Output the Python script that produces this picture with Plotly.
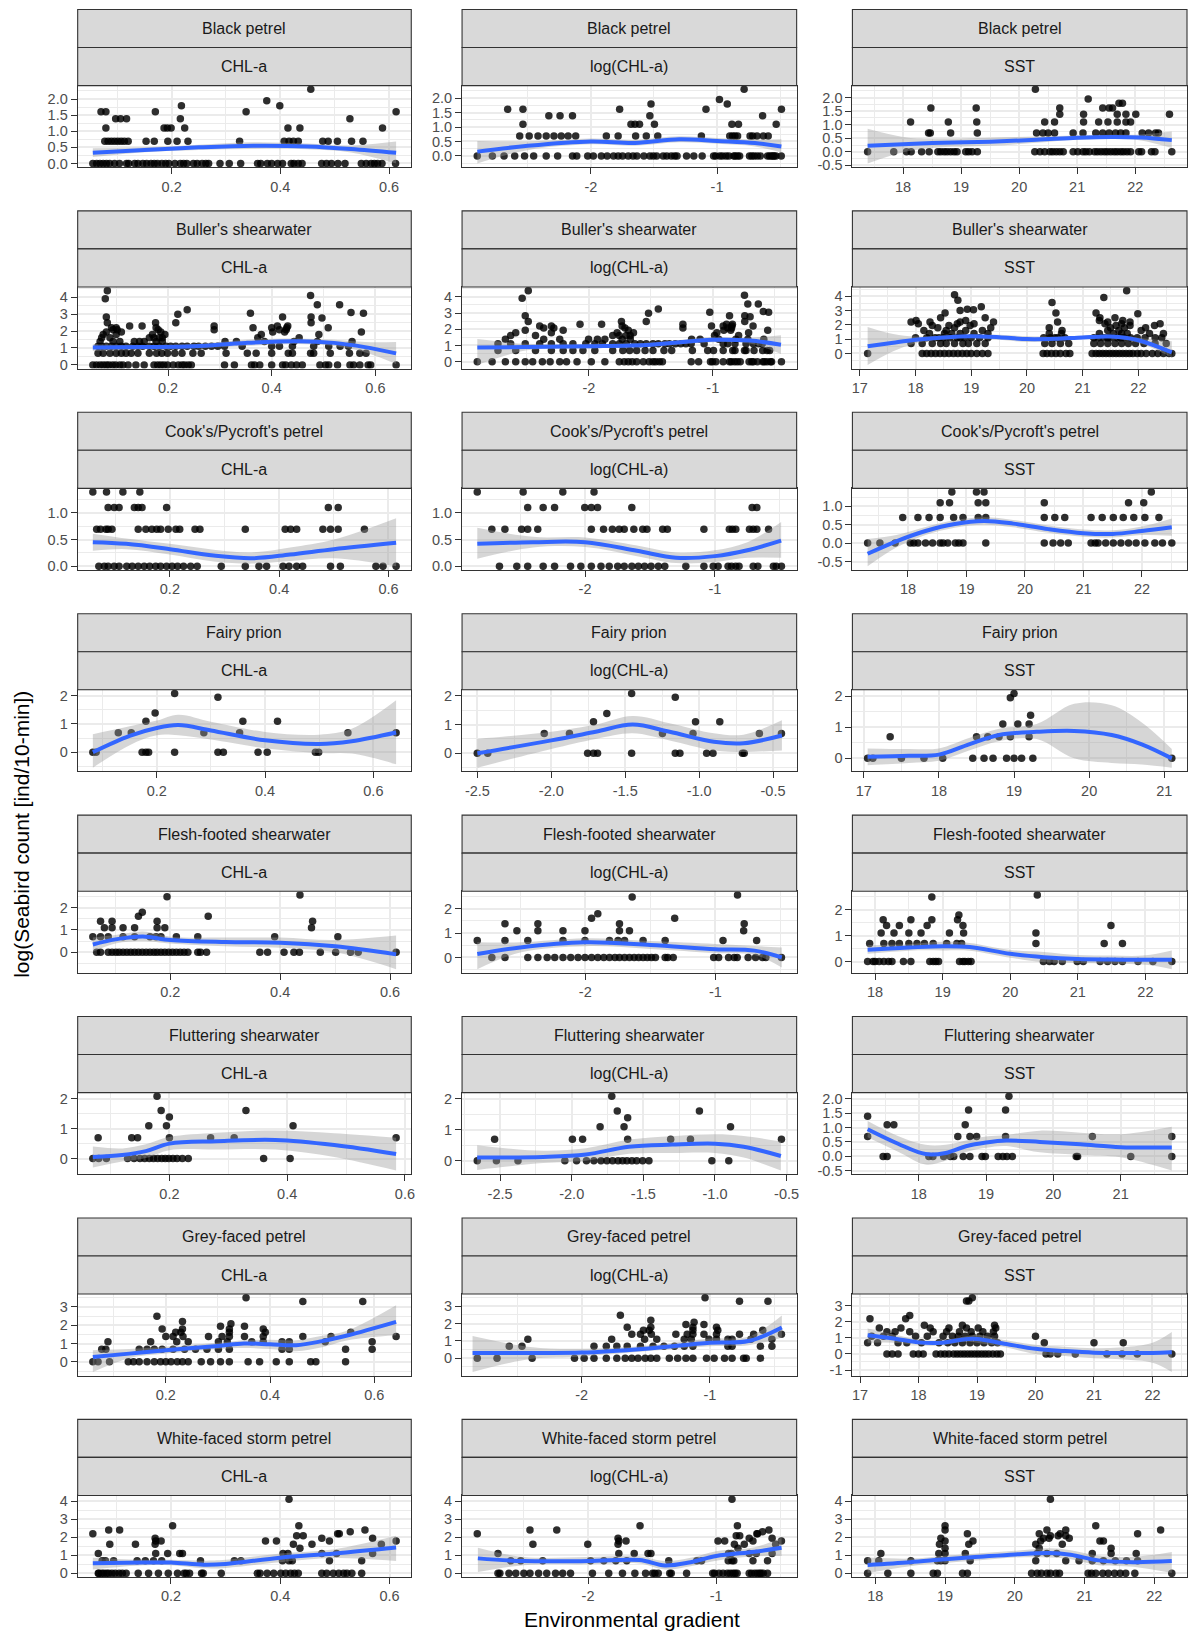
import numpy as np
import plotly.graph_objects as go

W, H = 1192, 1638

SPECIES = ["Black petrel", "Buller's shearwater", "Cook's/Pycroft's petrel", "Fairy prion",
           "Flesh-footed shearwater", "Fluttering shearwater", "Grey-faced petrel",
           "White-faced storm petrel"]
VARIABLES = ["CHL-a", "log(CHL-a)", "SST"]

# ---- observations: each group is [seabird count, x1, x2, ...] ----
BP_CHL = [
    [0, 0.055, 0.062, 0.068, 0.074, 0.080, 0.086, 0.095, 0.104, 0.117, 0.121, 0.132, 0.138, 0.147, 0.154,
     0.162, 0.168, 0.174, 0.182, 0.189, 0.195, 0.206, 0.216, 0.222, 0.228, 0.240, 0.247, 0.256, 0.263,
     0.268, 0.289, 0.306, 0.327, 0.358, 0.364, 0.376, 0.384, 0.395, 0.404, 0.420, 0.425, 0.433, 0.440,
     0.476, 0.485, 0.494, 0.506, 0.519, 0.549, 0.558, 0.567, 0.573, 0.579, 0.587, 0.612],
    [1, 0.077, 0.083, 0.089, 0.095, 0.101, 0.107, 0.113, 0.120, 0.153, 0.168, 0.193, 0.210, 0.230, 0.325,
     0.407, 0.416, 0.424, 0.433, 0.478, 0.488, 0.505, 0.531, 0.552],
    [2, 0.079, 0.186, 0.192, 0.199, 0.224, 0.414, 0.436, 0.588],
    [3, 0.097, 0.106, 0.117, 0.216, 0.528],
    [4, 0.070, 0.079, 0.170, 0.337, 0.613],
    [5, 0.218, 0.399],
    [6, 0.375],
    [9, 0.456],
]
BP_SST = [
    [0, 17.39, 17.84, 18.06, 18.14, 18.32, 18.45, 18.60, 18.65, 18.71, 18.76, 18.82, 18.88, 18.93, 19.08,
     19.13, 19.19, 19.28, 20.27, 20.36, 20.44, 20.53, 20.58, 20.64, 20.70, 20.76, 20.93, 21.01, 21.10,
     21.15, 21.21, 21.30, 21.35, 21.41, 21.47, 21.52, 21.58, 21.64, 21.69, 21.75, 21.80, 21.86, 21.92,
     22.06, 22.11, 22.28, 22.34, 22.63],
    [1, 18.44, 18.47, 18.82, 19.28, 20.30, 20.41, 20.50, 20.61, 20.93, 21.10, 21.32, 21.44, 21.55, 21.66,
     21.75, 21.84, 22.12, 22.23, 22.35, 22.40],
    [2, 18.13, 18.78, 19.27, 20.44, 20.61, 21.11, 21.37, 21.53, 21.69, 21.84, 21.92],
    [3, 20.70, 21.11, 21.69, 21.84, 22.01, 22.59],
    [4, 18.48, 19.26, 20.70, 21.44, 21.55, 21.61],
    [5, 21.72, 21.78],
    [6, 21.19],
    [9, 20.28],
]

BS_CHL = [
    [0, 0.055, 0.062, 0.069, 0.075, 0.081, 0.086, 0.093, 0.099, 0.107, 0.113, 0.123, 0.138, 0.154, 0.173,
     0.180, 0.186, 0.192, 0.199, 0.210, 0.220, 0.227, 0.232, 0.239, 0.245, 0.309, 0.328, 0.361, 0.367,
     0.377, 0.400, 0.421, 0.427, 0.438, 0.448, 0.459, 0.493, 0.504, 0.510, 0.527, 0.551, 0.558, 0.570,
     0.586, 0.591, 0.640],
    [1, 0.065, 0.075, 0.088, 0.100, 0.110, 0.119, 0.129, 0.142, 0.164, 0.178, 0.188, 0.199, 0.213, 0.227,
     0.248, 0.264, 0.312, 0.353, 0.370, 0.400, 0.432, 0.440, 0.475, 0.481, 0.513, 0.550, 0.570, 0.582],
    [2, 0.065, 0.072, 0.081, 0.091, 0.100, 0.110, 0.119, 0.132, 0.142, 0.151, 0.164, 0.173, 0.183, 0.196,
     0.205, 0.215, 0.227, 0.237, 0.250, 0.259, 0.272, 0.284, 0.296, 0.309, 0.343, 0.400, 0.415, 0.440,
     0.481, 0.510, 0.532, 0.548],
    [3, 0.069, 0.094, 0.107, 0.135, 0.145, 0.154, 0.177, 0.189, 0.310, 0.332, 0.386, 0.443, 0.488, 0.555],
    [4, 0.072, 0.088, 0.164, 0.173, 0.183, 0.189, 0.373, 0.453],
    [5, 0.075, 0.100, 0.170, 0.194, 0.380, 0.491],
    [6, 0.081, 0.110, 0.186, 0.402, 0.425, 0.573],
    [7, 0.094, 0.102, 0.181, 0.289, 0.415, 0.428],
    [8, 0.091, 0.100, 0.177, 0.364, 0.400, 0.429, 0.509],
    [9, 0.126, 0.150, 0.289, 0.411, 0.431],
    [11, 0.083, 0.176, 0.215, 0.476],
    [15, 0.497],
    [16, 0.081, 0.421, 0.476],
    [19, 0.219],
    [20, 0.359, 0.577],
    [21, 0.553],
    [25, 0.237],
    [34, 0.488, 0.531],
    [49, 0.079],
    [59, 0.475],
    [79, 0.083],
]
BS_SST = [
    [0, 17.14, 18.12, 18.20, 18.28, 18.36, 18.44, 18.52, 18.60, 18.68, 18.76, 18.84, 18.92, 19.00, 19.10,
     19.20, 19.30, 20.29, 20.36, 20.44, 20.52, 20.60, 20.70, 20.77, 21.17, 21.24, 21.30, 21.36, 21.42,
     21.48, 21.54, 21.60, 21.66, 21.72, 21.78, 21.84, 21.90, 21.98, 22.05, 22.14, 22.25, 22.35, 22.45,
     22.55, 22.60],
    [1, 17.92, 18.12, 18.30, 18.45, 18.55, 18.70, 18.85, 18.95, 19.10, 19.25, 20.32, 20.45, 20.60, 20.75,
     21.20, 21.32, 21.45, 21.58, 21.70, 21.82, 21.95, 22.10, 22.30, 22.50],
    [2, 18.00, 18.20, 18.35, 18.42, 18.50, 18.62, 18.75, 18.80, 18.88, 19.00, 19.15, 19.30, 20.30, 20.42,
     20.50, 20.55, 20.68, 21.20, 21.28, 21.38, 21.45, 21.50, 21.62, 21.68, 21.74, 21.86, 21.98, 22.12,
     22.30, 22.42],
    [3, 18.25, 18.52, 18.65, 18.80, 19.05, 19.30, 20.40, 20.62, 21.30, 21.55, 21.70, 21.80, 22.20, 22.45],
    [4, 18.15, 18.55, 18.90, 19.20, 20.63, 21.45, 21.65, 22.05],
    [5, 18.40, 18.70, 19.35, 20.40, 21.50, 21.75, 22.13],
    [6, 18.30, 18.60, 18.98, 21.60, 21.85, 22.29],
    [7, 18.05, 18.75, 19.05, 21.40, 21.70, 22.39],
    [8, 17.92, 18.26, 18.80, 19.40, 20.55, 21.45, 21.85],
    [9, 18.01, 18.90, 21.30, 21.72],
    [11, 18.45, 19.25, 21.31, 21.58],
    [15, 21.99],
    [16, 18.53, 20.52, 21.24],
    [19, 18.80],
    [20, 19.04],
    [21, 18.93],
    [25, 19.18],
    [34, 20.45],
    [40, 18.76],
    [49, 21.38],
    [59, 18.70],
    [79, 21.79],
]

CP_CHL = [
    [0, 0.070, 0.080, 0.087, 0.098, 0.107, 0.121, 0.131, 0.142, 0.153, 0.163, 0.174, 0.183, 0.194, 0.204,
     0.214, 0.225, 0.238, 0.250, 0.294, 0.338, 0.363, 0.377, 0.407, 0.418, 0.432, 0.443, 0.494, 0.512,
     0.577, 0.590, 0.614],
    [1, 0.066, 0.073, 0.083, 0.087, 0.094, 0.142, 0.156, 0.167, 0.176, 0.183, 0.197, 0.211, 0.218, 0.246,
     0.255, 0.338, 0.411, 0.421, 0.432, 0.480, 0.494, 0.508, 0.556],
    [2, 0.087, 0.098, 0.107, 0.135, 0.142, 0.149, 0.194, 0.490, 0.508],
    [3, 0.059, 0.084, 0.114, 0.145],
]
CP_SST = [
    [0, 17.31, 17.52, 17.78, 18.04, 18.10, 18.17, 18.30, 18.42, 18.55, 18.60, 18.68, 18.81, 18.87, 18.94,
     19.33, 20.33, 20.48, 20.61, 20.74, 21.13, 21.20, 21.25, 21.38, 21.51, 21.64, 21.77, 21.90, 22.05,
     22.22, 22.35, 22.51],
    [1, 17.91, 18.17, 18.36, 18.55, 18.78, 18.94, 19.20, 19.33, 20.33, 20.51, 20.68, 21.13, 21.32, 21.51,
     21.68, 21.86, 22.05, 22.29],
    [2, 18.55, 18.71, 19.20, 19.33, 20.33, 21.77, 22.03],
    [3, 18.75, 19.17, 19.30, 22.16],
]

FP_CHL = [
    [0, 0.082, 0.088, 0.173, 0.180, 0.185, 0.233, 0.313, 0.323, 0.387, 0.404, 0.493, 0.499],
    [1, 0.129, 0.153, 0.287, 0.353, 0.553, 0.642],
    [2, 0.180, 0.359, 0.423],
    [3, 0.197],
    [6, 0.313],
    [7, 0.233],
]
FP_SST = [
    [0, 17.05, 17.12, 17.50, 17.80, 18.05, 18.45, 18.60, 18.72, 18.90, 19.00, 19.10, 19.25, 21.10],
    [1, 17.35, 18.50, 18.65, 18.80, 18.95, 19.20],
    [2, 18.85, 19.05, 19.20],
    [3, 19.22],
    [6, 18.95],
    [7, 19.00],
]

FF_CHL = [
    [0, 0.066, 0.073, 0.087, 0.094, 0.101, 0.107, 0.114, 0.121, 0.128, 0.135, 0.142, 0.149, 0.156, 0.163,
     0.170, 0.176, 0.183, 0.190, 0.197, 0.204, 0.211, 0.218, 0.225, 0.232, 0.250, 0.255, 0.266, 0.363,
     0.377, 0.407, 0.425, 0.435, 0.473, 0.501, 0.528, 0.542, 0.611],
    [1, 0.059, 0.073, 0.087, 0.114, 0.135, 0.163, 0.174, 0.183, 0.211, 0.250, 0.390, 0.505],
    [2, 0.080, 0.094, 0.114, 0.135, 0.176, 0.190, 0.457],
    [3, 0.073, 0.094, 0.176, 0.459],
    [4, 0.142, 0.269],
    [5, 0.149],
    [11, 0.194],
    [12, 0.436],
]
FF_SST = [
    [0, 17.89, 17.97, 18.00, 18.06, 18.13, 18.20, 18.25, 18.42, 18.53, 18.81, 18.86, 18.90, 18.94, 19.25,
     19.30, 19.33, 19.38, 19.42, 20.49, 20.58, 20.65, 20.77, 20.99, 21.08, 21.33, 21.44, 21.55, 21.66,
     21.89, 22.11, 22.39],
    [1, 17.92, 18.13, 18.25, 18.36, 18.50, 18.62, 18.73, 18.86, 19.06, 19.21, 19.28, 20.38, 21.39, 21.66],
    [2, 18.09, 18.28, 18.50, 18.68, 19.10, 19.31, 20.38],
    [3, 18.17, 18.36, 18.77, 19.30, 21.49],
    [4, 18.12, 18.53, 18.84, 19.22],
    [5, 19.24],
    [11, 18.84],
    [12, 20.40],
]

FS_CHL = [
    [0, 0.070, 0.080, 0.093, 0.129, 0.140, 0.150, 0.158, 0.166, 0.173, 0.180, 0.187, 0.193, 0.199, 0.206,
     0.213, 0.222, 0.232, 0.360, 0.405],
    [1, 0.079, 0.136, 0.146, 0.200, 0.270, 0.310, 0.585],
    [2, 0.165, 0.195, 0.410],
    [3, 0.200],
    [4, 0.186, 0.330],
    [7, 0.179],
]
FS_SST = [
    [0, 17.47, 17.53, 18.15, 18.21, 18.37, 18.47, 18.52, 18.66, 18.76, 18.94, 18.99, 19.18, 19.25, 19.31,
     19.39, 20.34, 20.36, 21.15, 21.76],
    [1, 17.24, 18.58, 18.76, 18.86, 19.29, 20.58, 21.76],
    [2, 17.53, 17.63, 18.69],
    [3, 17.24],
    [4, 18.74, 19.29],
    [7, 19.34],
]

GF_CHL = [
    [0, 0.060, 0.070, 0.092, 0.128, 0.138, 0.149, 0.164, 0.178, 0.190, 0.200, 0.210, 0.222, 0.232, 0.243,
     0.268, 0.286, 0.305, 0.322, 0.358, 0.380, 0.412, 0.437, 0.478, 0.488, 0.545],
    [1, 0.077, 0.085, 0.149, 0.164, 0.178, 0.193, 0.214, 0.236, 0.257, 0.279, 0.301, 0.322, 0.423, 0.437,
     0.545, 0.596],
    [2, 0.089, 0.171, 0.221, 0.243, 0.301, 0.318, 0.365, 0.387, 0.423, 0.437, 0.506, 0.596],
    [3, 0.200, 0.214, 0.233, 0.282, 0.308, 0.322, 0.351, 0.387, 0.463, 0.517, 0.642],
    [4, 0.219, 0.229, 0.322, 0.391, 0.555],
    [5, 0.193, 0.232, 0.322, 0.387],
    [6, 0.305, 0.351],
    [7, 0.325],
    [8, 0.232],
    [11, 0.183],
    [26, 0.463, 0.578],
    [32, 0.354],
]
GF_SST = [
    [0, 17.46, 17.55, 17.65, 17.91, 18.00, 18.08, 18.30, 18.38, 18.45, 18.52, 18.60, 18.66, 18.72, 18.78,
     18.84, 18.90, 18.96, 19.02, 19.08, 19.14, 19.20, 19.27, 19.34, 19.40, 20.18, 20.25, 20.38, 20.68,
     21.22, 21.48, 21.74, 22.33],
    [1, 17.13, 17.30, 17.65, 17.80, 18.05, 18.35, 18.50, 18.62, 18.75, 18.88, 19.00, 19.12, 19.25, 19.35,
     20.15, 21.00, 21.50],
    [2, 17.20, 17.40, 17.55, 17.95, 18.15, 18.42, 18.58, 18.68, 18.80, 18.92, 19.05, 19.18, 19.30, 20.00],
    [3, 17.46, 17.60, 17.85, 18.25, 18.48, 18.70, 18.90, 19.10, 19.28],
    [4, 17.33, 17.70, 18.20, 18.52, 18.82, 19.02, 19.32],
    [5, 18.10, 18.75, 19.30],
    [8, 17.17, 17.78],
    [10, 17.85],
    [26, 18.82, 18.86],
    [32, 18.92],
]

WF_CHL = [
    [0, 0.067, 0.068, 0.073, 0.077, 0.082, 0.086, 0.092, 0.098, 0.105, 0.111, 0.118, 0.140, 0.159, 0.177,
     0.195, 0.212, 0.224, 0.228, 0.234, 0.256, 0.259, 0.292, 0.358, 0.363, 0.376, 0.388, 0.401, 0.410,
     0.419, 0.426, 0.433, 0.476, 0.485, 0.497, 0.507, 0.516, 0.522, 0.531, 0.549],
    [1, 0.074, 0.080, 0.095, 0.138, 0.153, 0.168, 0.183, 0.254, 0.316, 0.328, 0.404, 0.416, 0.422, 0.490,
     0.549],
    [2, 0.067, 0.172, 0.194, 0.216, 0.221, 0.405, 0.414, 0.476, 0.503, 0.569],
    [3, 0.436],
    [4, 0.088, 0.135, 0.171, 0.424, 0.458, 0.585],
    [5, 0.172, 0.182, 0.373, 0.393, 0.490, 0.612],
    [6, 0.171, 0.476, 0.569],
    [7, 0.430, 0.442],
    [8, 0.057, 0.505, 0.508],
    [9, 0.528],
    [10, 0.086, 0.106, 0.555],
    [13, 0.203, 0.434],
    [60, 0.416],
]
WF_SST = [
    [0, 17.89, 18.18, 18.51, 18.83, 18.89, 19.25, 19.32, 20.24, 20.32, 20.38, 20.46, 20.51, 20.59, 20.64,
     21.05, 21.10, 21.16, 21.26, 21.34, 21.43, 21.51, 21.59, 21.72, 22.25],
    [1, 17.89, 18.05, 18.51, 18.89, 18.94, 19.00, 19.36, 20.30, 20.73, 20.92, 21.11, 21.27, 21.44, 21.60,
     21.76],
    [2, 18.08, 18.91, 19.00, 19.29, 20.32, 20.46, 20.60, 21.11, 21.38, 21.74],
    [3, 19.00, 20.35, 21.38],
    [4, 18.92, 19.34, 20.30, 20.68],
    [5, 19.00, 19.40, 20.37, 21.22, 21.27],
    [6, 18.94, 20.41, 20.49, 20.78],
    [7, 20.51, 20.62, 20.73],
    [8, 19.32, 20.35, 20.65, 21.76],
    [10, 19.00, 20.46, 20.73, 22.09],
    [13, 19.00, 21.16],
    [60, 20.51],
]

# ---- loess fits: [x, fit, lower, upper] ----
BP_CHL_FIT = [[0.055, 0.15, 0.25, 0.35, 0.45, 0.53, 0.613],
              [0.33, 0.42, 0.50, 0.55, 0.53, 0.45, 0.33],
              [0.20, 0.35, 0.42, 0.45, 0.44, 0.34, 0.00],
              [0.47, 0.50, 0.58, 0.66, 0.62, 0.56, 0.68]]
BP_LOG_FIT = [[-2.90, -2.5, -2.0, -1.65, -1.3, -1.0, -0.7, -0.49],
              [0.15, 0.35, 0.50, 0.45, 0.58, 0.52, 0.45, 0.33],
              [-0.26, 0.20, 0.40, 0.35, 0.47, 0.42, 0.33, 0.12],
              [0.52, 0.50, 0.60, 0.56, 0.68, 0.62, 0.57, 0.58]]
BP_SST_FIT = [[17.39, 18.0, 18.5, 19.5, 20.3, 21.0, 21.6, 22.1, 22.63],
              [0.22, 0.28, 0.32, 0.37, 0.44, 0.52, 0.55, 0.53, 0.43],
              [-0.43, -0.02, 0.14, 0.22, 0.33, 0.44, 0.47, 0.42, 0.14],
              [0.85, 0.55, 0.48, 0.52, 0.56, 0.60, 0.63, 0.64, 0.75]]

BS_CHL_FIT = [[0.055, 0.15, 0.25, 0.35, 0.45, 0.52, 0.58, 0.64],
              [1.02, 1.05, 1.10, 1.30, 1.40, 1.30, 1.05, 0.68],
              [0.82, 0.93, 0.97, 1.12, 1.24, 1.12, 0.75, 0.05],
              [1.22, 1.17, 1.23, 1.48, 1.56, 1.48, 1.35, 1.35]]
BS_LOG_FIT = [[-2.90, -2.5, -2.0, -1.5, -1.0, -0.7, -0.45],
              [0.87, 0.90, 0.95, 1.05, 1.35, 1.30, 1.05],
              [-0.20, 0.70, 0.82, 0.92, 1.20, 1.12, 0.48],
              [1.40, 1.10, 1.08, 1.18, 1.50, 1.48, 1.63]]
BS_SST_FIT = [[17.14, 17.6, 18.0, 18.5, 19.0, 19.5, 20.0, 20.5, 21.0, 21.5, 22.0, 22.6],
              [0.50, 0.75, 0.95, 1.12, 1.20, 1.13, 1.00, 1.02, 1.12, 1.18, 0.92, 0.07],
              [-0.80, 0.15, 0.72, 0.98, 1.07, 0.95, 0.80, 0.87, 1.00, 1.06, 0.75, -0.28],
              [1.85, 1.35, 1.18, 1.26, 1.33, 1.30, 1.20, 1.17, 1.24, 1.30, 1.10, 0.85]]

CP_CHL_FIT = [[0.059, 0.12, 0.2, 0.28, 0.35, 0.42, 0.5, 0.614],
              [0.45, 0.42, 0.32, 0.20, 0.15, 0.22, 0.32, 0.44],
              [0.29, 0.32, 0.22, 0.09, 0.05, 0.10, 0.15, 0.00],
              [0.61, 0.52, 0.42, 0.31, 0.26, 0.35, 0.50, 0.90]]
CP_LOG_FIT = [[-2.83, -2.4, -2.0, -1.6, -1.3, -1.0, -0.75, -0.49],
              [0.42, 0.45, 0.45, 0.29, 0.16, 0.19, 0.30, 0.48],
              [0.14, 0.35, 0.36, 0.19, 0.06, 0.08, 0.16, 0.16],
              [0.72, 0.55, 0.54, 0.39, 0.26, 0.30, 0.45, 0.83]]
CP_SST_FIT = [[17.31, 17.8, 18.3, 18.8, 19.3, 19.8, 20.4, 21.0, 21.5, 22.0, 22.51],
              [-0.29, 0.05, 0.33, 0.52, 0.60, 0.53, 0.38, 0.27, 0.25, 0.33, 0.43],
              [-0.63, -0.12, 0.22, 0.42, 0.50, 0.43, 0.28, 0.17, 0.15, 0.22, 0.20],
              [0.11, 0.22, 0.44, 0.62, 0.70, 0.63, 0.48, 0.37, 0.35, 0.45, 0.67]]

FP_CHL_FIT = [[0.082, 0.15, 0.2, 0.24, 0.3, 0.4, 0.5, 0.56, 0.642],
              [0.00, 0.58, 0.86, 0.96, 0.77, 0.42, 0.29, 0.39, 0.70],
              [-0.55, 0.25, 0.60, 0.60, 0.45, 0.14, -0.03, -0.05, -0.43],
              [0.64, 0.92, 1.12, 1.33, 1.08, 0.72, 0.62, 0.83, 1.84]]
FP_LOG_FIT = [[-2.50, -2.0, -1.7, -1.45, -1.2, -0.9, -0.7, -0.44],
              [0.00, 0.45, 0.75, 1.00, 0.75, 0.40, 0.35, 0.62],
              [-0.50, 0.15, 0.50, 0.70, 0.45, 0.10, 0.05, 0.10],
              [0.50, 0.75, 1.00, 1.30, 1.05, 0.70, 0.65, 1.15]]
FP_SST_FIT = [[17.05, 17.6, 18.0, 18.4, 18.8, 19.3, 19.8, 20.3, 20.7, 21.1],
              [0.05, 0.08, 0.12, 0.45, 0.75, 0.85, 0.88, 0.75, 0.45, 0.00],
              [-0.22, -0.15, -0.08, 0.25, 0.55, 0.62, 0.00, -0.15, -0.20, -0.30],
              [0.32, 0.30, 0.32, 0.65, 0.95, 1.10, 1.75, 1.70, 1.15, 0.30]]

FF_CHL_FIT = [[0.059, 0.1, 0.15, 0.2, 0.3, 0.4, 0.5, 0.611],
              [0.35, 0.58, 0.71, 0.55, 0.46, 0.43, 0.27, -0.09],
              [0.03, 0.40, 0.50, 0.40, 0.27, 0.20, 0.00, -0.75],
              [0.66, 0.77, 0.93, 0.70, 0.66, 0.66, 0.55, 0.75]]
FF_LOG_FIT = [[-2.83, -2.5, -2.0, -1.5, -1.0, -0.7, -0.49],
              [0.14, 0.41, 0.62, 0.51, 0.34, 0.28, 0.00],
              [-0.48, 0.20, 0.46, 0.35, 0.18, 0.10, -0.41],
              [0.62, 0.62, 0.79, 0.67, 0.55, 0.47, 0.41]]
FF_SST_FIT = [[17.89, 18.5, 19.0, 19.4, 20.0, 20.5, 21.0, 21.5, 22.0, 22.39],
              [0.46, 0.54, 0.59, 0.56, 0.30, 0.17, 0.10, 0.08, 0.07, 0.07],
              [0.30, 0.42, 0.43, 0.42, 0.15, -0.03, -0.05, -0.08, -0.12, -0.29],
              [0.63, 0.67, 0.76, 0.72, 0.45, 0.37, 0.25, 0.23, 0.24, 0.43]]

FS_CHL_FIT = [[0.07, 0.12, 0.16, 0.2, 0.28, 0.38, 0.48, 0.585],
              [0.05, 0.12, 0.25, 0.50, 0.58, 0.62, 0.45, 0.15],
              [-0.30, -0.10, 0.02, 0.28, 0.30, 0.30, 0.05, -0.40],
              [0.40, 0.34, 0.48, 0.72, 0.86, 0.94, 0.85, 0.70]]
FS_LOG_FIT = [[-2.66, -2.2, -1.9, -1.6, -1.3, -1.0, -0.8, -0.54],
              [0.10, 0.12, 0.20, 0.45, 0.52, 0.55, 0.45, 0.15],
              [-0.30, -0.08, 0.00, 0.22, 0.25, 0.25, 0.10, -0.32],
              [0.50, 0.32, 0.40, 0.68, 0.79, 0.85, 0.80, 0.62]]
FS_SST_FIT = [[17.24, 17.7, 18.1, 18.4, 18.7, 19.0, 19.3, 19.8, 20.4, 21.0, 21.76],
              [0.94, 0.43, 0.08, 0.12, 0.35, 0.48, 0.55, 0.50, 0.42, 0.32, 0.31],
              [0.66, 0.15, -0.28, -0.15, 0.15, 0.30, 0.36, 0.14, 0.05, -0.03, -0.49],
              [1.23, 0.70, 0.40, 0.40, 0.55, 0.69, 0.74, 0.89, 0.82, 0.77, 1.03]]

GF_CHL_FIT = [[0.06, 0.13, 0.2, 0.3, 0.35, 0.4, 0.45, 0.5, 0.55, 0.642],
              [0.27, 0.45, 0.64, 0.87, 1.00, 0.96, 0.91, 1.13, 1.45, 2.18],
              [-0.55, 0.20, 0.45, 0.70, 0.76, 0.70, 0.58, 0.80, 1.18, 1.45],
              [0.64, 0.70, 0.82, 1.04, 1.18, 1.20, 1.18, 1.42, 1.73, 3.09]]
GF_LOG_FIT = [[-2.85, -2.4, -2.0, -1.5, -1.0, -0.7, -0.44],
              [0.30, 0.30, 0.32, 0.55, 0.89, 0.99, 1.78],
              [-0.80, -0.05, 0.10, 0.40, 0.69, 0.75, 1.18],
              [1.28, 0.65, 0.55, 0.72, 1.14, 1.25, 2.47]]
GF_SST_FIT = [[17.13, 17.6, 18.0, 18.4, 18.8, 19.0, 19.5, 20.0, 20.5, 21.0, 21.5, 22.0, 22.33],
              [1.16, 0.95, 0.72, 0.70, 0.92, 0.93, 0.62, 0.32, 0.18, 0.08, 0.06, 0.06, 0.10],
              [0.70, 0.70, 0.55, 0.55, 0.78, 0.70, 0.40, 0.00, -0.12, -0.27, -0.35, -0.55, -1.12],
              [1.59, 1.20, 0.90, 0.85, 1.08, 1.20, 0.85, 0.57, 0.45, 0.36, 0.42, 0.70, 1.37]]

WF_CHL_FIT = [[0.057, 0.15, 0.2, 0.26, 0.3, 0.4, 0.5, 0.612],
              [0.56, 0.60, 0.60, 0.48, 0.52, 0.87, 1.10, 1.43],
              [0.22, 0.45, 0.45, 0.28, 0.30, 0.62, 0.85, 0.69],
              [0.87, 0.75, 0.75, 0.70, 0.75, 1.10, 1.34, 2.08]]
WF_LOG_FIT = [[-2.86, -2.5, -2.0, -1.6, -1.4, -1.2, -1.0, -0.7, -0.49],
              [0.83, 0.68, 0.68, 0.74, 0.44, 0.62, 0.96, 1.20, 1.42],
              [0.07, 0.45, 0.50, 0.55, 0.22, 0.40, 0.70, 0.95, 0.96],
              [1.42, 0.90, 0.90, 0.95, 0.68, 0.86, 1.23, 1.45, 1.97]]
WF_SST_FIT = [[17.89, 18.5, 19.0, 19.5, 20.0, 20.5, 20.8, 21.2, 21.7, 22.25],
              [0.47, 0.62, 0.78, 0.92, 1.05, 1.13, 1.03, 0.72, 0.62, 0.68],
              [0.02, 0.40, 0.57, 0.72, 0.88, 0.88, 0.78, 0.45, 0.37, 0.02],
              [0.88, 0.82, 0.98, 1.12, 1.25, 1.39, 1.28, 0.98, 0.92, 1.19]]

# ---- axis breaks per species row: (CHL-a, log(CHL-a), SST) ----
X_TICKS = [
    ([0.2, 0.4, 0.6], [-2, -1], [18, 19, 20, 21, 22]),
    ([0.2, 0.4, 0.6], [-2, -1], [17, 18, 19, 20, 21, 22]),
    ([0.2, 0.4, 0.6], [-2, -1], [18, 19, 20, 21, 22]),
    ([0.2, 0.4, 0.6], [-2.5, -2.0, -1.5, -1.0, -0.5], [17, 18, 19, 20, 21]),
    ([0.2, 0.4, 0.6], [-2, -1], [18, 19, 20, 21, 22]),
    ([0.2, 0.4, 0.6], [-2.5, -2.0, -1.5, -1.0, -0.5], [18, 19, 20, 21]),
    ([0.2, 0.4, 0.6], [-2, -1], [17, 18, 19, 20, 21, 22]),
    ([0.2, 0.4, 0.6], [-2, -1], [18, 19, 20, 21, 22]),
]
Y_TICKS = [
    ([0.0, 0.5, 1.0, 1.5, 2.0], [0.0, 0.5, 1.0, 1.5, 2.0], [-0.5, 0.0, 0.5, 1.0, 1.5, 2.0]),
    ([0, 1, 2, 3, 4], [0, 1, 2, 3, 4], [0, 1, 2, 3, 4]),
    ([0.0, 0.5, 1.0], [0.0, 0.5, 1.0], [-0.5, 0.0, 0.5, 1.0]),
    ([0, 1, 2], [0, 1, 2], [0, 1, 2]),
    ([-1, 0, 1, 2], [0, 1, 2], [0, 1, 2]),
    ([0, 1, 2], [0, 1, 2], [-0.5, 0.0, 0.5, 1.0, 1.5, 2.0]),
    ([0, 1, 2, 3], [0, 1, 2, 3], [-1, 0, 1, 2, 3]),
    ([0, 1, 2, 3, 4], [0, 1, 2, 3, 4], [0, 1, 2, 3, 4]),
]

ROWS = [
    (BP_CHL, BP_SST, BP_CHL_FIT, BP_LOG_FIT, BP_SST_FIT),
    (BS_CHL, BS_SST, BS_CHL_FIT, BS_LOG_FIT, BS_SST_FIT),
    (CP_CHL, CP_SST, CP_CHL_FIT, CP_LOG_FIT, CP_SST_FIT),
    (FP_CHL, FP_SST, FP_CHL_FIT, FP_LOG_FIT, FP_SST_FIT),
    (FF_CHL, FF_SST, FF_CHL_FIT, FF_LOG_FIT, FF_SST_FIT),
    (FS_CHL, FS_SST, FS_CHL_FIT, FS_LOG_FIT, FS_SST_FIT),
    (GF_CHL, GF_SST, GF_CHL_FIT, GF_LOG_FIT, GF_SST_FIT),
    (WF_CHL, WF_SST, WF_CHL_FIT, WF_LOG_FIT, WF_SST_FIT),
]

# ---- facet geometry (pixels) ----
COL_X = [(77, 412), (463, 799), (855, 1191)]
ROW_STEP = 202.4
STRIP_TOP = 7.5
STRIP_MID = 45.7
PLOT_TOP = 84.0
PLOT_BOTTOM = 166.0

FONT = "Liberation Sans, Arial, sans-serif"
STRIP_FILL = "#D9D9D9"
DARK = "#333333"
GRID = "#EBEBEB"


def unpack(groups):
    xs, ys = [], []
    for g in groups:
        for x in g[1:]:
            xs.append(x)
            ys.append(float(np.log1p(g[0])))
    return xs, ys


def expand(lo, hi, f=0.05):
    d = hi - lo
    return [lo - f * d, hi + f * d]


def labels(vals):
    dec = 0 if all(float(v).is_integer() for v in vals) else 1
    return [f"{v:.{dec}f}" for v in vals]


def minors(vals):
    step = vals[1] - vals[0]
    return [vals[0] - step / 2] + [v + step / 2 for v in vals]


def px_x(p):
    return p / W


def px_y(p):
    return 1 - p / H


fig = go.Figure()
shapes, annotations = [], []
axes = {}

for r, (chl, sst, fit_chl, fit_log, fit_sst) in enumerate(ROWS):
    chl_x, chl_y = unpack(chl)
    sst_x, sst_y = unpack(sst)
    panels = [
        (chl_x, chl_y, fit_chl),
        (list(np.log(chl_x)), chl_y, fit_log),
        (sst_x, sst_y, fit_sst),
    ]
    off = r * ROW_STEP
    for c, (px, py, fit) in enumerate(panels):
        k = r * 3 + c + 1
        xa, ya = ("x", "y") if k == 1 else (f"x{k}", f"y{k}")
        fx, fy, flo, fhi = fit

        fig.add_trace(go.Scatter(
            x=px, y=py, mode="markers", xaxis=xa, yaxis=ya, showlegend=False, hoverinfo="skip",
            marker=dict(size=7.5, color="rgba(0,0,0,0.82)", line=dict(width=0))))
        fig.add_trace(go.Scatter(
            x=fx, y=flo, mode="lines", xaxis=xa, yaxis=ya, showlegend=False, hoverinfo="skip",
            line=dict(width=0, shape="spline", color="rgba(0,0,0,0)")))
        fig.add_trace(go.Scatter(
            x=fx, y=fhi, mode="lines", xaxis=xa, yaxis=ya, showlegend=False, hoverinfo="skip",
            line=dict(width=0, shape="spline", color="rgba(0,0,0,0)"),
            fill="tonexty", fillcolor="rgba(153,153,153,0.4)"))
        fig.add_trace(go.Scatter(
            x=fx, y=fy, mode="lines", xaxis=xa, yaxis=ya, showlegend=False, hoverinfo="skip",
            line=dict(width=4, shape="spline", color="#3366FF")))

        xr = expand(min(px), max(px))
        yall = list(py) + list(flo) + list(fhi)
        yr = expand(min(yall), max(yall))
        xt = X_TICKS[r][c]
        yt = Y_TICKS[r][c]
        x0, x1 = COL_X[c]
        common = dict(
            ticks="outside", ticklen=6, tickwidth=1, tickcolor=DARK,
            showline=True, mirror=True, linecolor=DARK, linewidth=1,
            showgrid=True, gridcolor=GRID, gridwidth=1.6, zeroline=False,
            tickfont=dict(family=FONT, size=14.5, color="#4D4D4D"), fixedrange=True,
            tickmode="array",
        )
        axes["xaxis" if k == 1 else f"xaxis{k}"] = dict(
            common, domain=[px_x(x0), px_x(x1)], anchor=ya, range=xr,
            tickvals=xt, ticktext=labels(xt),
            minor=dict(tickmode="array", tickvals=minors(xt), showgrid=True, gridcolor=GRID,
                       gridwidth=0.8, ticks=""))
        axes["yaxis" if k == 1 else f"yaxis{k}"] = dict(
            common, domain=[px_y(PLOT_BOTTOM + off), px_y(PLOT_TOP + off)], anchor=xa, range=yr,
            tickvals=yt, ticktext=labels(yt),
            minor=dict(tickmode="array", tickvals=minors(yt), showgrid=True, gridcolor=GRID,
                       gridwidth=0.8, ticks=""))

        # two stacked facet strips: species above, variable below
        for (t0, t1, txt) in [(STRIP_TOP, STRIP_MID, SPECIES[r]), (STRIP_MID, PLOT_TOP, VARIABLES[c])]:
            shapes.append(dict(type="rect", xref="paper", yref="paper",
                               x0=px_x(x0), x1=px_x(x1), y0=px_y(t1 + off), y1=px_y(t0 + off),
                               fillcolor=STRIP_FILL, line=dict(color=DARK, width=1.1)))
            annotations.append(dict(xref="paper", yref="paper", x=px_x((x0 + x1) / 2),
                                    y=px_y((t0 + t1) / 2 + off), text=txt, showarrow=False,
                                    xanchor="center", yanchor="middle",
                                    font=dict(family=FONT, size=16, color="#1A1A1A")))

annotations.append(dict(xref="paper", yref="paper", x=px_x(21), y=px_y(836),
                        text="log(Seabird count [ind/10-min])", textangle=-90, showarrow=False,
                        xanchor="center", yanchor="middle",
                        font=dict(family=FONT, size=21, color="#000000")))
annotations.append(dict(xref="paper", yref="paper", x=px_x(634), y=px_y(1625),
                        text="Environmental gradient", showarrow=False,
                        xanchor="center", yanchor="middle",
                        font=dict(family=FONT, size=21, color="#000000")))

fig.update_layout(
    width=W, height=H, margin=dict(l=0, r=0, t=0, b=0),
    paper_bgcolor="white", plot_bgcolor="white",
    shapes=shapes, annotations=annotations, showlegend=False,
    font=dict(family=FONT),
    **axes,
)

# keep the page exactly the size of the figure
fig.write_html(
    "out.html",
    post_script=("document.documentElement.style.overflow='hidden';"
                 "document.body.style.margin='0';document.body.style.overflow='hidden';"),
)
